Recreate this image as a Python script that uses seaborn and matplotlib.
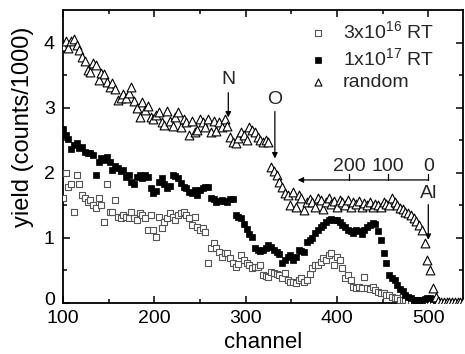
import numpy as np
import pandas as pd
import matplotlib
matplotlib.use("Agg")
import matplotlib.pyplot as plt
import matplotlib.transforms as mtransforms
import seaborn as sns

# RBS spectra: yield (counts/1000) versus channel, one point every 3 channels
start_channel = 100
channel_step = 3

yield_3e16 = [
    1.61, 2.00, 1.78, 1.82, 1.40, 1.97, 1.82, 1.66, 1.61, 1.55,
    1.58, 1.51, 1.46, 1.61, 1.51, 1.25, 1.82, 1.40, 1.40, 1.58,
    1.32, 1.31, 1.35, 1.32, 1.31, 1.40, 1.31, 1.28, 1.38, 1.35,
    1.31, 1.12, 1.35, 1.12, 1.02, 1.32, 1.15, 1.25, 1.31, 1.38,
    1.32, 1.28, 1.35, 1.38, 1.40, 1.35, 1.30, 1.20, 1.32, 1.17,
    1.12, 1.15, 1.09, 0.62, 0.85, 0.92, 0.85, 0.78, 0.71, 0.77,
    0.77, 0.69, 0.62, 0.55, 0.60, 0.74, 0.66, 0.62, 0.58, 0.54,
    0.56, 0.55, 0.58, 0.43, 0.42, 0.40, 0.48, 0.46, 0.45, 0.43,
    0.38, 0.46, 0.35, 0.32, 0.33, 0.31, 0.36, 0.38, 0.32, 0.35,
    0.45, 0.54, 0.58, 0.58, 0.63, 0.69, 0.66, 0.74, 0.77, 0.58,
    0.71, 0.66, 0.54, 0.38, 0.43, 0.35, 0.25, 0.23, 0.24, 0.23,
    0.40, 0.23, 0.22, 0.25, 0.20, 0.17, 0.16, 0.15, 0.13, 0.12,
    0.09, 0.08, 0.07, 0.05, 0.04, 0.04, 0.03, 0.03, 0.03, 0.03,
    0.02, 0.02, 0.02, 0.02, 0.02, 0.02, 0.01, 0.01,
]

yield_1e17 = [
    2.68, 2.58, 2.52, 2.36, 2.42, 2.46, 2.38, 2.40, 2.32, 2.30,
    2.31, 2.28, 1.97, 2.17, 2.23, 2.20, 2.25, 2.17, 2.05, 2.10,
    2.08, 2.02, 2.05, 1.94, 1.96, 1.86, 1.82, 1.94, 1.97, 1.92,
    1.97, 1.94, 1.77, 1.69, 1.72, 1.86, 1.92, 1.82, 1.77, 1.80,
    1.97, 1.95, 1.92, 1.85, 1.78, 1.77, 1.71, 1.69, 1.74, 1.66,
    1.74, 1.76, 1.78, 1.78, 1.62, 1.60, 1.55, 1.57, 1.58, 1.56,
    1.55, 1.60, 1.60, 1.35, 1.32, 1.30, 1.22, 1.14, 1.06, 1.02,
    0.84, 0.82, 0.80, 0.82, 0.85, 0.89, 0.86, 0.82, 0.78, 0.76,
    0.62, 0.66, 0.70, 0.74, 0.66, 0.70, 0.82, 0.80, 0.78, 0.94,
    0.97, 1.00, 1.08, 1.12, 1.17, 1.20, 1.25, 1.28, 1.29, 1.28,
    1.27, 1.25, 1.20, 1.16, 1.12, 1.10, 1.08, 1.12, 1.10, 1.06,
    1.12, 1.17, 1.20, 1.23, 1.22, 1.10, 0.97, 0.77, 0.62, 0.43,
    0.38, 0.35, 0.28, 0.22, 0.18, 0.12, 0.09, 0.07, 0.05, 0.04,
    0.04, 0.05, 0.06, 0.07, 0.08, 0.06, 0.04, 0.02,
]

yield_random = [
    3.95, 4.02, 3.92, 4.03, 4.05, 3.97, 3.88, 3.78, 3.71, 3.58,
    3.55, 3.68, 3.65, 3.43, 3.54, 3.51, 3.40, 3.32, 3.38, 3.28,
    3.12, 3.15, 3.21, 3.15, 3.23, 3.31, 3.11, 3.00, 2.85, 3.08,
    2.97, 3.02, 2.85, 2.82, 2.89, 2.94, 2.78, 2.74, 2.95, 2.80,
    2.72, 2.85, 2.93, 2.71, 2.82, 2.78, 2.58, 2.80, 2.62, 2.66,
    2.82, 2.78, 2.71, 2.82, 2.62, 2.80, 2.64, 2.78, 2.71, 2.82,
    2.72, 2.55, 2.48, 2.46, 2.54, 2.63, 2.58, 2.51, 2.70, 2.66,
    2.62, 2.55, 2.51, 2.48, 2.50, 2.48, 2.09, 2.02, 1.96, 1.86,
    1.78, 1.69, 1.66, 1.50, 1.71, 1.48, 1.66, 1.62, 1.43, 1.55,
    1.60, 1.55, 1.48, 1.62, 1.58, 1.45, 1.55, 1.62, 1.52, 1.57,
    1.48, 1.58, 1.55, 1.50, 1.58, 1.47, 1.55, 1.52, 1.57, 1.48,
    1.54, 1.50, 1.55, 1.47, 1.52, 1.50, 1.48, 1.55, 1.52, 1.50,
    1.62, 1.55, 1.50, 1.46, 1.44, 1.40, 1.38, 1.35, 1.30, 1.26,
    1.20, 1.12, 0.92, 0.66, 0.51, 0.23, 0.09, 0.03, 0.01, 0.01,
    0.01, 0.01, 0.01, 0.01, 0.01, 0.01, 0.01,
]

series_labels = ["3x10$^{16}$ RT", "1x10$^{17}$ RT", "random"]

# element surface edges and depth scale for Al
edge_labels = ["N", "O", "Al"]
edge_channels = [281, 332, 500]
depth_labels = ["200", "100", "0"]
depth_channels = [413, 456, 500]


def channels_for(values):
    return start_channel + channel_step * np.arange(len(values))


frames = []
for lab, vals in zip(series_labels, [yield_3e16, yield_1e17, yield_random]):
    frames.append(pd.DataFrame({"channel": channels_for(vals),
                                "yield": vals, "sample": lab}))
df = pd.concat(frames, ignore_index=True)

sns.set_theme(style="ticks")
plt.rcParams["font.family"] = ["Liberation Sans", "DejaVu Sans"]
plt.rcParams["mathtext.fontset"] = "custom"
plt.rcParams["mathtext.rm"] = "Liberation Sans"
plt.rcParams["mathtext.default"] = "regular"

fig = plt.figure(figsize=(4.65, 3.54), dpi=100)
ax = fig.add_axes([63 / 465, 51 / 354, 400 / 465, 293 / 354])

styles = {
    series_labels[0]: dict(marker="s", color="white", edgecolor="#555555",
                           linewidth=0.8, s=24),
    series_labels[1]: dict(marker="s", color="black", edgecolor="black",
                           linewidth=0.5, s=24),
    series_labels[2]: dict(marker="^", color="white", edgecolor="black",
                           linewidth=0.8, s=40),
}
for lab in series_labels:
    sub = df[df["sample"] == lab]
    sns.scatterplot(data=sub, x="channel", y="yield", ax=ax, label=lab,
                    zorder=3, **styles[lab])

ax.set_xlim(100, 538)
ax.set_ylim(0, 4.5)
ax.set_xticks([100, 200, 300, 400, 500])
ax.set_xticks(np.arange(150, 538, 100), minor=True)
ax.set_yticks([0, 1, 2, 3, 4])
ax.set_yticks([0.5, 1.5, 2.5, 3.5], minor=True)
ax.tick_params(which="both", direction="in", top=True, right=True,
               labelsize=14, width=1.1, color="black", labelcolor="black")
ax.tick_params(which="major", length=5)
ax.tick_params(which="minor", length=3)
ax.tick_params(axis="x", which="major", pad=5)
ax.tick_params(axis="y", which="major", pad=6)
for sp in ax.spines.values():
    sp.set_linewidth(1.3)
    sp.set_color("black")

# lift the "0" label a little so it clears the "100" below it
zero_label = ax.yaxis.get_major_ticks()[0].label1
zero_label.set_transform(zero_label.get_transform() + mtransforms.ScaledTranslation(
    0, 3 / 72, fig.dpi_scale_trans))

ax.set_xlabel("channel", fontsize=16, labelpad=4, color="black")
ax.set_ylabel("yield (counts/1000)", fontsize=17, color="black")
ax.yaxis.set_label_coords(-0.072, 0.6)

# surface edge markers
arrow_kw = dict(arrowstyle="-|>", color="black", lw=0.9, mutation_scale=8,
                shrinkA=0, shrinkB=0)
edge_text_y = [3.43, 3.12, 1.68]
edge_arrow = [(3.23, 2.85), (2.94, 2.22), (1.51, 0.97)]
for lab, ch, ty, (y0, y1) in zip(edge_labels, edge_channels, edge_text_y,
                                 edge_arrow):
    ax.text(ch, ty, lab, ha="center", va="center", fontsize=14)
    ax.annotate("", xy=(ch, y1), xytext=(ch, y0), arrowprops=arrow_kw)

# depth scale for Al (arrow pointing toward larger depth)
scale_y = 1.89
ax.annotate("", xy=(357, scale_y), xytext=(depth_channels[-1], scale_y),
            arrowprops=arrow_kw)
for lab, ch in zip(depth_labels, depth_channels):
    ax.plot([ch, ch], [scale_y, scale_y + 0.09], color="black", lw=0.9)
    ax.text(ch, scale_y + 0.2, lab, ha="center", va="center", fontsize=14)

leg = ax.legend(loc="upper left", bbox_to_anchor=(0.578, 1.012),
                frameon=False, fontsize=14, handlelength=1.0,
                handletextpad=0.8, labelspacing=0.25, borderpad=0.2,
                markerscale=0.8)

fig.savefig("out.png", dpi=100)
